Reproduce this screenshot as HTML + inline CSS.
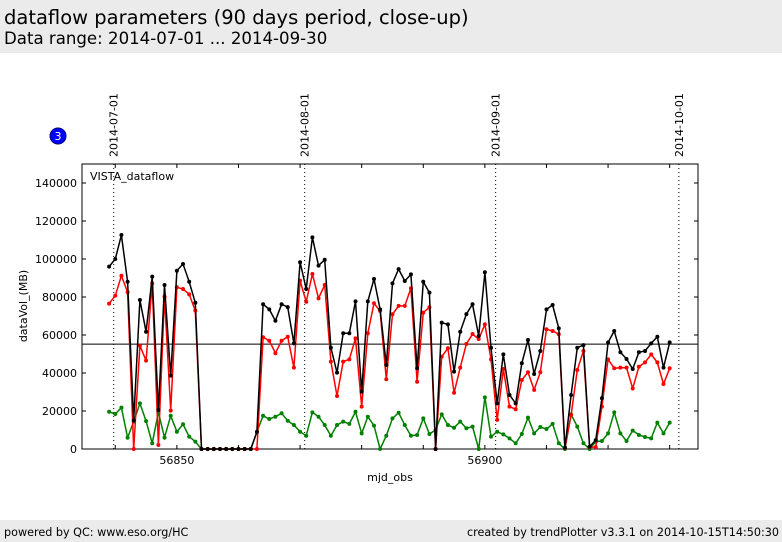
<!DOCTYPE html>
<html><head><meta charset="utf-8"><style>
body{margin:0;width:782px;height:542px;background:#fff;font-family:"DejaVu Sans","Liberation Sans",sans-serif;overflow:hidden;position:relative}
.band{position:absolute;left:0;width:782px;background:#ebebeb}
</style></head><body>
<div class="band" style="top:0;height:53px">
<div style="position:absolute;left:4px;top:6px;font-size:19.5px">dataflow parameters (90 days period, close-up)</div>
<div style="position:absolute;left:4px;top:29px;font-size:16.6px">Data range: 2014-07-01 ... 2014-09-30</div>
</div>
<div class="band" style="top:520px;height:22px;font-size:11.2px">
<span style="position:absolute;left:4px;top:6px">powered by QC: www.eso.org/HC</span>
<span style="position:absolute;right:3px;top:6px">created by trendPlotter v3.3.1 on 2014-10-15T14:50:30</span>
</div>
<svg id="chart" width="782" height="542" style="position:absolute;left:0;top:0" font-family="DejaVu Sans, sans-serif"></svg>
<script>
const startMjd = 56839;
const totalVals = [96000,100000,112600,88000,15000,78400,61700,90700,20500,86300,38600,93800,97400,88000,77000,0,0,0,0,0,0,0,0,0,9000,76200,73500,67500,76200,74700,55600,98300,84200,111400,96500,99600,53300,40200,60900,60900,77700,30200,77700,89500,73500,44200,87200,94700,88400,91900,42500,88000,82300,0,66500,65600,40700,61700,71000,76200,59500,93000,53300,24000,49800,28400,24000,45100,57400,39500,51600,73500,75800,63500,700,28400,53300,54700,1200,4700,26700,56100,62100,50900,47400,42100,50900,51600,55600,59100,42800,56100];
const redVals = [76500,80700,91200,82500,0,54400,46500,87200,2100,80200,20200,85100,84200,81400,72800,0,0,0,0,0,0,0,0,0,0,58800,57000,50400,57000,59100,42800,88600,77500,92100,79300,86300,46000,27900,46000,47200,58200,22300,60900,76700,72600,36700,70900,75300,75300,84600,35400,71800,74600,0,48600,53000,29600,42800,55300,60500,57900,65600,47200,15300,42100,22300,20900,36300,40400,31100,40400,63000,62100,60400,500,17900,41600,51600,1000,1000,22300,47200,42500,42800,42800,31900,43300,45600,49800,45600,34200,42500];
const greenVals = [19600,18400,21800,6000,14400,24000,14700,3000,19300,6000,17500,9100,13000,6500,3900,0,0,0,0,0,0,0,0,0,9000,17500,15800,17000,18800,14900,12600,9100,7000,19300,17000,12600,7000,12600,14400,13200,19600,8200,17000,12300,0,7000,16100,19100,12600,7000,7400,16100,7900,10000,18200,12600,11200,14400,10900,11800,0,27200,6500,9100,7700,5600,3000,7900,16500,8200,11600,10500,13200,3000,0,18200,11800,3000,0,3900,4200,8200,19300,8200,4200,9700,7400,6300,5600,13900,8200,13900];
const yTicks = [0,20000,40000,60000,80000,100000,120000,140000];
const xTickLabels = [56850,56900];
const dateLines = [56839.75,56870.75,56901.75,56931.5];
const dateLabels = ["2014-07-01","2014-08-01","2014-09-01","2014-10-01"];
const avgLine = [55200];

const L=82,R=698,T=164,B=449,xMin=56834.6,xMax=56934.6,yMax=150000;
const X=v=>L+(v-xMin)/(xMax-xMin)*(R-L);
const Y=v=>B-v/yMax*(B-T);
const svg=document.getElementById('chart');
const NS='http://www.w3.org/2000/svg';
function mk(t,a,p){const e=document.createElementNS(NS,t);for(const k in a)e.setAttribute(k,a[k]);(p||svg).appendChild(e);return e;}

const frame=mk('rect',{x:L,y:T,width:R-L,height:B-T,fill:'#fff',stroke:'#000','stroke-width':1});



yTicks.forEach(v=>{
  const t=mk('line',{x1:L,x2:L+4,y1:Y(v),y2:Y(v),stroke:'#000'});
  
  
  mk('line',{x1:R-4,x2:R,y1:Y(v),y2:Y(v),stroke:'#000'});
  const tx=mk('text',{x:L-5,y:Y(v)+4,'text-anchor':'end','font-size':11});
  tx.textContent=v;
  
  
});
for(let d=56840;d<=56930;d+=10){
  mk('line',{x1:X(d),x2:X(d),y1:B,y2:B-4,stroke:'#000'});
  mk('line',{x1:X(d),x2:X(d),y1:T,y2:T+4,stroke:'#000'});
}
xTickLabels.forEach(v=>{
  const tx=mk('text',{x:X(v),y:B+15,'text-anchor':'middle','font-size':11});
  tx.textContent=v;
  
  
});
dateLines.forEach((d,i)=>{
  const l=mk('line',{x1:X(d),x2:X(d),y1:T,y2:B,stroke:'#000','stroke-dasharray':'1,3'});
  
  
  const tx=mk('text',{transform:`translate(${X(d)+4},157) rotate(-90)`,'font-size':11});
  tx.textContent=dateLabels[i];
  
  
});
const al=mk('line',{x1:L,x2:R,y1:Y(avgLine[0]),y2:Y(avgLine[0]),stroke:'#000','stroke-width':1});



function series(vals,color,name){
  const g=mk('g',{});
  
  
  const pts=vals.map((v,i)=>X(startMjd+i).toFixed(1)+','+Y(v).toFixed(1)).join(' ');
  mk('polyline',{points:pts,fill:'none',stroke:color,'stroke-width':1.5},g);
  vals.forEach((v,i)=>{
    const c=mk('circle',{cx:X(startMjd+i),cy:Y(v),r:2,fill:color},g);
    
    
  });
}
series(greenVals,'#008000','green-series');
series(redVals,'#ff0000','red-series');
series(totalVals,'#000000','black-series');

const lab=mk('text',{x:90,y:180,'font-size':11});
lab.textContent='VISTA_dataflow';


const yl=mk('text',{transform:'translate(27,306) rotate(-90)','text-anchor':'middle','font-size':11});
yl.textContent='dataVol_(MB)';


const xl=mk('text',{x:390,y:481,'text-anchor':'middle','font-size':11});
xl.textContent='mjd_obs';


const bc=mk('circle',{cx:58,cy:136,r:8,fill:'#0000ff',stroke:'#000080'});


const bt=mk('text',{x:58,y:140,'text-anchor':'middle','font-size':11,fill:'#fff'});
bt.textContent='3';


</script>
</body></html>
